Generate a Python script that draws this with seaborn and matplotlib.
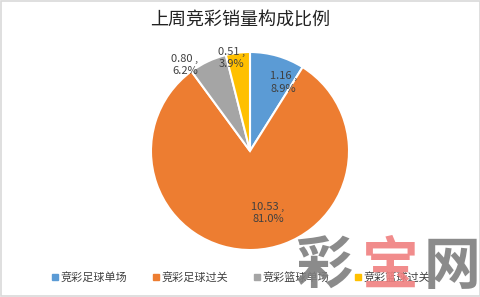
import matplotlib
matplotlib.use("Agg")
import matplotlib.pyplot as plt
import seaborn as sns
import numpy as np
from matplotlib.lines import Line2D
from matplotlib.patches import Rectangle

sns.set_theme(style="white")
plt.rcParams['font.family'] = ['Noto Sans CJK SC', 'DejaVu Sans']

categories = ["竞彩足球单场", "竞彩足球过关", "竞彩篮球单场", "竞彩篮球过关"]
values = [1.16, 10.53, 0.80, 0.51]
title = "上周竞彩销量构成比例"
colors = ["#5B9BD5", "#ED7D31", "#A5A5A5", "#FFC000"]

# label placement (angle offset in degrees, radius) per slice
label_pos = [(-10, 0.77), (14, 0.65), (12, 1.09), (4, 0.96)]

fig = plt.figure(figsize=(4.81, 2.97), dpi=100)
fig.patch.set_facecolor("white")
fig.patches.append(Rectangle((0.002, 0.003), 0.996, 0.994, transform=fig.transFigure,
                             fill=False, edgecolor="#D9D9D9", linewidth=1.2))

ax = fig.add_axes([150/481, 46/297, 200/481, 200/297])
wedges, _ = ax.pie(values, colors=colors, startangle=90, counterclock=False,
                   wedgeprops=dict(edgecolor="white", linewidth=1.5), radius=1.0)
ax.set_xlim(-1.01, 1.01)
ax.set_ylim(-1.01, 1.01)
ax.set_aspect("equal")
ax.axis("off")

total = sum(values)
for w, v, (da, r) in zip(wedges, values, label_pos):
    mid = np.deg2rad((w.theta1 + w.theta2) / 2 + da)
    ax.text(r*np.cos(mid), r*np.sin(mid), f"{v:.2f} ,\n{v/total*100:.1f}%",
            ha="center", va="center", fontsize=8, color="#404040", linespacing=1.3)

fig.text(0.5, 1 - 21/297, title, ha="center", va="center", fontsize=13, color="#222222")

handles = [Line2D([0], [0], marker="s", linestyle="", markersize=4.5,
                  markerfacecolor=c, markeredgecolor=c) for c in colors]
fig.legend(handles, categories, loc="center", bbox_to_anchor=(0.5, 1 - 277/297), ncol=4,
           frameon=False, fontsize=8, handletextpad=0.1, columnspacing=2.2,
           handlelength=0.8, labelcolor="#404040")

# watermark
wm = [("彩", "#7F7F7F", 324), ("宝", "#F08080", 390), ("网", "#7F7F7F", 452)]
for ch, c, x in wm:
    fig.text(x/481, 1 - 267/297, ch, ha="center", va="center", fontsize=41,
             fontweight="bold", color=c, alpha=0.9, zorder=10)

fig.savefig("out.png", dpi=100, facecolor="white")
